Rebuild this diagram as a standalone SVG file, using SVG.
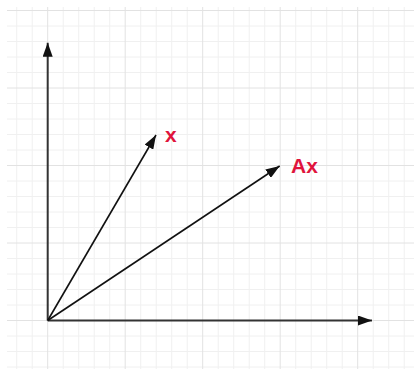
<svg xmlns="http://www.w3.org/2000/svg" width="414" height="369" viewBox="0 0 414 369">
  <style>
    .minor { stroke: #f0f0f0; stroke-width: 1; fill: none; }
    .major { stroke: #e2e2e2; stroke-width: 1; fill: none; }
    .axis { stroke: #333333; stroke-width: 2; fill: none; }
    .vec { stroke: #111111; stroke-width: 1.6; fill: none; }
    .lbl { font-family: "Liberation Sans", Arial, sans-serif; font-weight: bold; font-size: 21px; fill: #e0143c; }
  </style>
  <defs>
    <marker id="arrow" markerUnits="userSpaceOnUse" markerWidth="14" markerHeight="10" refX="14" refY="5" orient="auto">
      <path d="M0,0 L14,5 L0,10 Z" fill="#111111"/>
    </marker>
  </defs>
  <rect width="414" height="369" fill="#ffffff"/>
  <g id="grid">
    <path class="minor" d="M16.7,7V369M32.2,7V369M63.2,7V369M78.7,7V369M94.2,7V369M109.7,7V369M140.7,7V369M156.2,7V369M171.7,7V369M187.2,7V369M218.2,7V369M233.7,7V369M249.2,7V369M264.7,7V369M295.7,7V369M311.2,7V369M326.7,7V369M342.2,7V369M373.2,7V369M388.7,7V369M404.2,7V369"/>
    <path class="minor" d="M7,26H414M7,41.5H414M7,57H414M7,72.5H414M7,103.5H414M7,119H414M7,134.5H414M7,150H414M7,181H414M7,196.5H414M7,212H414M7,227.5H414M7,258.5H414M7,274H414M7,289.5H414M7,305H414M7,336H414M7,351.5H414M7,367H414"/>
    <path class="major" d="M47.7,7V369M125.2,7V369M202.7,7V369M280.2,7V369M357.7,7V369"/>
    <path class="major" d="M7,10.5H414M7,88H414M7,165.5H414M7,243H414M7,320.5H414"/>
  </g>
  <g id="connectors">
    <line id="y-axis" class="axis" x1="47.7" y1="320.5" x2="47.7" y2="42.7" marker-end="url(#arrow)"/>
    <line id="x-axis" class="axis" x1="47.7" y1="320.5" x2="372" y2="320.5" marker-end="url(#arrow)"/>
    <line id="vec-x" class="vec" x1="47.7" y1="320.5" x2="156" y2="135" marker-end="url(#arrow)"/>
    <line id="vec-Ax" class="vec" x1="47.7" y1="320.5" x2="279.7" y2="166" marker-end="url(#arrow)"/>
  </g>
  <g id="label-x">
    <text class="lbl" x="165" y="141.5">x</text>
  </g>
  <g id="label-Ax">
    <text class="lbl" x="291" y="173">Ax</text>
  </g>
</svg>
